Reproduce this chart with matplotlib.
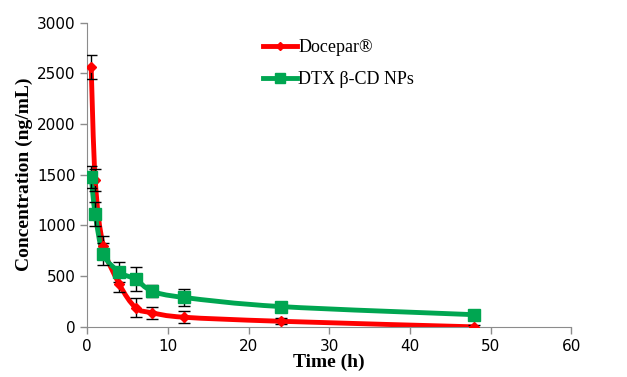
import numpy as np
import matplotlib
matplotlib.use("Agg")
import matplotlib.pyplot as plt
from matplotlib.path import Path
from matplotlib.patches import PathPatch

time_h = [0.5, 1, 2, 4, 6, 8, 12, 24, 48]
docepar = [2560, 1450, 800, 420, 190, 140, 95, 55, 0]
docepar_err = [120, 110, 100, 80, 90, 60, 60, 30, 20]
dtx_np = [1480, 1110, 720, 540, 470, 355, 290, 200, 120]
dtx_np_err = [110, 120, 110, 100, 120, 60, 80, 40, 20]

red = "#ff0000"
green = "#00a651"


def smooth_path(x, y, t=0.5 / 3):
    # Excel-style smoothed line as cubic bezier segments
    x = np.asarray(x, float)
    y = np.asarray(y, float)
    verts = [(x[0], y[0])]
    codes = [Path.MOVETO]
    n = len(x)
    for i in range(n - 1):
        x0, y0 = (x[i - 1], y[i - 1]) if i > 0 else (x[i], y[i])
        x3, y3 = (x[i + 2], y[i + 2]) if i + 2 < n else (x[i + 1], y[i + 1])
        c1 = (x[i] + t * (x[i + 1] - x0), y[i] + t * (y[i + 1] - y0))
        c2 = (x[i + 1] - t * (x3 - x[i]), y[i + 1] - t * (y3 - y[i]))
        verts += [c1, c2, (x[i + 1], y[i + 1])]
        codes += [Path.CURVE4] * 3
    return Path(verts, codes)


fig, ax = plt.subplots(figsize=(6.27, 3.77), dpi=100)
fig.subplots_adjust(left=0.139, right=0.911, top=0.94, bottom=0.133)

for y, err, col, mk, ms in [(docepar, docepar_err, red, "D", 5),
                            (dtx_np, dtx_np_err, green, "s", 9)]:
    ax.add_patch(PathPatch(smooth_path(time_h, y), fill=False, edgecolor=col, lw=3.5, zorder=2))
    ax.errorbar(time_h, y, yerr=err, fmt="none", ecolor="black", elinewidth=1,
                capsize=4, capthick=1, zorder=3)
    ax.plot(time_h, y, linestyle="none", marker=mk, color=col, markersize=ms, zorder=4)

# legend handles
ax.plot([], [], color=red, lw=3.5, marker="D", markersize=4, label="Docepar®")
ax.plot([], [], color=green, lw=3.5, marker="s", markersize=7, label="DTX β-CD NPs")
ax.legend(loc="upper left", bbox_to_anchor=(0.33, 1.0), frameon=False,
          prop={"family": "Liberation Serif", "size": 13}, handlelength=1.9,
          handletextpad=0.05, labelspacing=0.85)

ax.set_xlim(0, 60)
ax.set_ylim(0, 3000)
ax.set_xticks(range(0, 61, 10))
ax.set_yticks(range(0, 3001, 500))
ax.set_xlabel("Time (h)", family="Liberation Serif", fontweight="bold", fontsize=14, labelpad=0)
ax.set_ylabel("Concentration (ng/mL)", family="Liberation Serif", fontweight="bold", fontsize=14, labelpad=3)

for s in ["top", "right"]:
    ax.spines[s].set_visible(False)
for s in ["left", "bottom"]:
    ax.spines[s].set_color("#8c8c8c")
ax.tick_params(colors="#8c8c8c", labelcolor="black", labelsize=11, length=5, width=1)

plt.savefig("out.png", dpi=100)
